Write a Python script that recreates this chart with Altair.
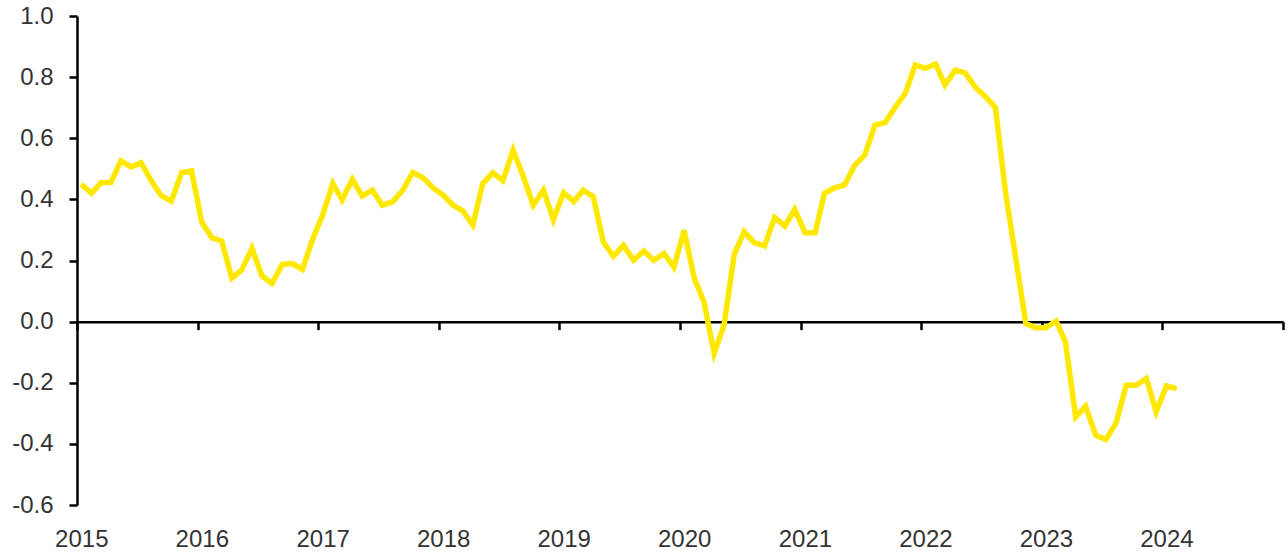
import altair as alt
import pandas as pd

# Monthly values, Jan 2015 .. Feb 2024
values = [
    0.449, 0.420, 0.454, 0.456, 0.526, 0.506, 0.520, 0.461, 0.411, 0.394, 0.488, 0.493,
    0.325, 0.274, 0.264, 0.143, 0.169, 0.240, 0.150, 0.125, 0.187, 0.190, 0.171, 0.267,
    0.349, 0.452, 0.398, 0.465, 0.411, 0.430, 0.381, 0.392, 0.430, 0.488, 0.471, 0.438,
    0.414, 0.380, 0.363, 0.316, 0.452, 0.487, 0.461, 0.561, 0.474, 0.381, 0.430, 0.334,
    0.422, 0.393, 0.430, 0.409, 0.261, 0.214, 0.250, 0.201, 0.231, 0.201, 0.223, 0.178,
    0.299, 0.141, 0.065, -0.104, -0.011, 0.221, 0.294, 0.258, 0.248, 0.341, 0.313, 0.367,
    0.291, 0.291, 0.420, 0.438, 0.447, 0.512, 0.545, 0.643, 0.651, 0.701, 0.747, 0.840,
    0.829, 0.843, 0.774, 0.823, 0.814, 0.767, 0.737, 0.700, 0.420, 0.212, -0.006, -0.020,
    -0.020, 0.002, -0.066, -0.312, -0.277, -0.372, -0.386, -0.333, -0.208, -0.208, -0.186, -0.295,
    -0.210, -0.219,
]
label_years = list(range(2015, 2025))
tick_years = list(range(2015, 2026))
y_ticks = [-0.6, -0.4, -0.2, 0.0, 0.2, 0.4, 0.6, 0.8, 1.0]

dates = pd.date_range("2015-01-01", periods=len(values), freq="MS") + pd.Timedelta(days=13)
df = pd.DataFrame({"date": dates, "value": values})
ticks_df = pd.DataFrame({"tick": [pd.Timestamp(year=y, month=1, day=1) for y in tick_years]})

FONT = "Liberation Sans"
x_domain = [alt.DateTime(year=2015, month=1, date=1), alt.DateTime(year=2025, month=1, date=1)]
x_scale = alt.Scale(domain=x_domain)
y_scale = alt.Scale(domain=[-0.6, 1.0], nice=False, zero=False)

W, H = 1206, 489

line = alt.Chart(df).mark_line(color="#FFE800", strokeWidth=5.5, strokeJoin="miter").encode(
    x=alt.X(
        "date:T",
        scale=x_scale,
        axis=alt.Axis(
            values=[alt.DateTime(year=y, month=1, date=14) for y in label_years],
            format="%Y",
            title=None,
            grid=False,
            domain=False,
            ticks=False,
            tickSize=0,
            labelPadding=22,
            labelFont=FONT,
            labelFontSize=24,
            labelColor="#333333",
            labelFlush=False,
            labelOverlap=False,
            orient="bottom",
        ),
    ),
    y=alt.Y(
        "value:Q",
        scale=y_scale,
        axis=alt.Axis(
            values=y_ticks,
            labelExpr="datum.value < 0 ? '-' + format(-datum.value, '.1f') : format(datum.value, '.1f')",
            title=None,
            grid=False,
            domainColor="black",
            domainWidth=2.5,
            tickColor="black",
            tickWidth=2.5,
            tickSize=8,
            labelPadding=16,
            labelFont=FONT,
            labelFontSize=24,
            labelColor="#333333",
            labelFlush=False,
            labelOverlap=False,
        ),
    ),
)

zero_axis = alt.Chart(ticks_df).mark_point(opacity=0).encode(
    x=alt.X(
        "tick:T",
        scale=x_scale,
        axis=alt.Axis(
            values=[alt.DateTime(year=y, month=1, date=1) for y in tick_years],
            orient="bottom",
            offset=-H * 0.6 / 1.6,
            labels=False,
            title=None,
            grid=False,
            domainColor="black",
            domainWidth=2.5,
            tickColor="black",
            tickWidth=2.5,
            tickSize=8,
        ),
    ),
)

chart = (
    alt.layer(zero_axis, line)
    .resolve_axis(x="independent")
    .properties(
        width=W,
        height=H,
        autosize=alt.AutoSizeParams(type="none"),
        padding={"left": 77, "top": 16, "right": 5, "bottom": 48},
        background="white",
    )
    .configure_view(stroke=None)
)

chart.save("out.html", embed_options={"renderer": "svg", "actions": False})
